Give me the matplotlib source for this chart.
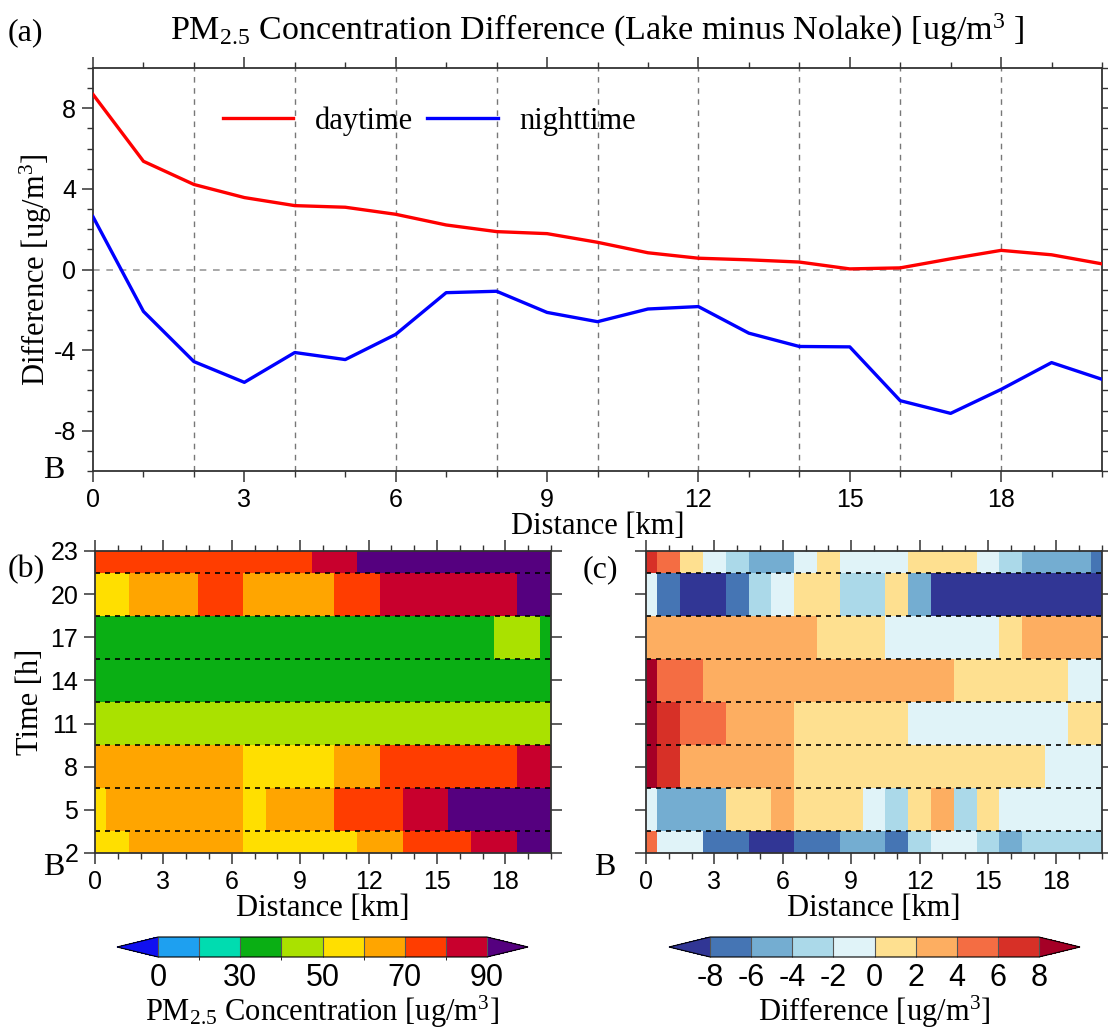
import numpy as np
import matplotlib.pyplot as plt
from matplotlib.colors import ListedColormap, BoundaryNorm
from matplotlib.ticker import MultipleLocator

plt.rcParams['font.family'] = 'Liberation Serif'
plt.rcParams['mathtext.fontset'] = 'custom'
plt.rcParams['mathtext.rm'] = 'Liberation Serif'
plt.rcParams['mathtext.it'] = 'Liberation Serif:italic'
plt.rcParams['axes.unicode_minus'] = False

SANS = 'Liberation Sans'

# distance along the A-B transect [km]
distance = np.arange(21)

# mean PM2.5 difference (Lake - Nolake)
day_diff = [8.69, 5.37, 4.22, 3.57, 3.17, 3.09, 2.74, 2.21, 1.88, 1.78, 1.35,
            0.83, 0.56, 0.48, 0.37, 0.03, 0.08, 0.53, 0.95, 0.73, 0.28]
night_diff = [2.62, -2.08, -4.57, -5.60, -4.12, -4.47, -3.22, -1.15, -1.08, -2.13, -2.59,
              -1.96, -1.84, -3.16, -3.82, -3.84, -6.51, -7.14, -5.95, -4.62, -5.45]

hours = [2, 5, 8, 11, 14, 17, 20, 23]

# PM2.5 concentration, one row per hour
pm_conc = [
    [55, 55, 65, 65, 65, 65, 65, 55, 55, 55, 55, 55, 65, 65, 75, 75, 75, 85, 85, 95, 95],
    [55, 65, 65, 65, 65, 65, 65, 55, 65, 65, 65, 75, 75, 75, 85, 85, 95, 95, 95, 95, 95],
    [65, 65, 65, 65, 65, 65, 65, 55, 55, 55, 55, 65, 65, 75, 75, 75, 75, 75, 75, 85, 85],
    [45] * 21,
    [35] * 21,
    [35] * 18 + [45, 45, 35],
    [55, 55, 65, 65, 65, 75, 75, 65, 65, 65, 65, 75, 75, 85, 85, 85, 85, 85, 85, 95, 95],
    [75] * 10 + [85, 85] + [95] * 9,
]

# PM2.5 difference, one row per hour
pm_diff = [
    [5, -1, -1, -7, -7, -9, -9, -7, -7, -5, -5, -7, -3, -1, -1, -3, -5, -3, -3, -3, -3],
    [-1, -5, -5, -5, 1, 1, 3, 1, 1, 1, -1, -3, 1, 3, -3, 1, -1, -1, -1, -1, -1],
    [9, 7, 3, 3, 3, 3, 3, 1, 1, 1, 1, 1, 1, 1, 1, 1, 1, 1, -1, -1, -1],
    [9, 7, 5, 5, 3, 3, 3, 1, 1, 1, 1, 1, -1, -1, -1, -1, -1, -1, -1, 1, 1],
    [9, 5, 5, 3, 3, 3, 3, 3, 3, 3, 3, 3, 3, 3, 1, 1, 1, 1, 1, -1, -1],
    [3, 3, 3, 3, 3, 3, 3, 3, 1, 1, 1, -1, -1, -1, -1, -1, 1, 3, 3, 3, 3],
    [-1, -7, -9, -9, -7, -3, -1, 1, 1, -3, -3, 1, -5, -9, -9, -9, -9, -9, -9, -9, -9],
    [7, 5, 1, -1, -3, -5, -5, -1, 1, -1, -1, -1, 1, 1, 1, -1, -3, -5, -5, -5, -7],
]

pm_levels = [0, 20, 30, 40, 50, 60, 70, 80, 90]
pm_ticks = [0, 30, 50, 70, 90]
pm_colors = ['#1ea0f0', '#00dcb0', '#0aaf14', '#aae100', '#ffdf00',
             '#ffa500', '#ff3d00', '#c8002d']
pm_under, pm_over = '#1010f0', '#55007f'

diff_levels = [-8, -6, -4, -2, 0, 2, 4, 6, 8]
diff_colors = ['#4575b4', '#74add1', '#abd9e9', '#e0f3f8',
               '#fee090', '#fdae61', '#f46d43', '#d73027']
diff_under, diff_over = '#313695', '#a50026'

W, H = 1108, 1030
fig = plt.figure(figsize=(W / 100, H / 100), dpi=100)


def box(l, t, r, b):
    return [l / W, 1 - b / H, (r - l) / W, (b - t) / H]


def style_axes(ax):
    for s in ax.spines.values():
        s.set_linewidth(1.3)
        s.set_color('#333333')
    ax.tick_params(which='both', direction='out', top=True, right=True,
                   color='#333333', labelfontfamily=SANS, labelsize=18, pad=4)
    ax.tick_params(which='major', length=8, width=1.1)
    ax.tick_params(which='minor', length=4.5, width=1.0)


# (a) line plot
ax = fig.add_axes(box(93, 68, 1102, 471))
for x in range(2, 20, 2):
    ax.axvline(x, color='#777777', lw=1.0, ls=(0, (4, 4)), zorder=1)
ax.axhline(0, color='#999999', lw=1.2, ls=(0, (4, 4)), zorder=1)
ax.plot(distance, day_diff, color='#ff0000', lw=2.4, label='daytime', zorder=3)
ax.plot(distance, night_diff, color='#0000ff', lw=2.4, label='nighttime', zorder=3)
ax.set_xlim(0, 20)
ax.set_ylim(-10, 10)
ax.xaxis.set_major_locator(MultipleLocator(3))
ax.xaxis.set_minor_locator(MultipleLocator(1))
ax.yaxis.set_major_locator(MultipleLocator(4))
ax.yaxis.set_minor_locator(MultipleLocator(1))
style_axes(ax)
ax.set_xlabel('Distance [km]', fontsize=22, labelpad=0)
ax.set_ylabel('Difference [ug/m$^3$]', fontsize=22, labelpad=0)
ax.set_title('PM$_{2.5}$ Concentration Difference (Lake minus Nolake) [ug/m$^3$ ]',
             fontsize=24.5, pad=20)
ax.legend(loc='center left', bbox_to_anchor=(0.1288, 0.8685), ncol=2, frameon=False,
          fontsize=22, handlelength=2.3, handletextpad=0.72, columnspacing=0.46,
          borderpad=0, borderaxespad=0)
fig.text(8 / W, 1 - 40 / H, '(a)', fontsize=23)
fig.text(54 / W, 1 - 478 / H, 'B', fontsize=23, ha='center')


def draw_section(rect, data, levels, colors, under, over, show_y):
    cmap = ListedColormap(colors)
    cmap.set_under(under)
    cmap.set_over(over)
    norm = BoundaryNorm(levels, cmap.N)
    a = fig.add_axes(rect)
    x_edges = np.arange(-0.5, 21, 1)
    y_edges = np.array([h - 1.5 for h in hours] + [hours[-1] + 1.5])
    mesh = a.pcolormesh(x_edges, y_edges, np.array(data), cmap=cmap, norm=norm)
    for yb in y_edges[1:-1]:
        a.axhline(yb, color='black', lw=1.2, ls=(0, (3, 3)))
    a.set_xlim(0, 20)
    a.set_ylim(hours[0], hours[-1])
    a.xaxis.set_major_locator(MultipleLocator(3))
    a.xaxis.set_minor_locator(MultipleLocator(1))
    a.set_yticks(hours)
    style_axes(a)
    if not show_y:
        a.set_yticklabels([])
    a.set_xlabel('Distance [km]', fontsize=22, labelpad=0)
    return a, mesh


ax_b, mesh_b = draw_section(box(95, 551, 551, 853), pm_conc, pm_levels, pm_colors,
                            pm_under, pm_over, True)
ax_b.set_ylabel('Time [h]', fontsize=22, labelpad=4)
ax_c, mesh_c = draw_section(box(646, 551, 1102, 853), pm_diff, diff_levels, diff_colors,
                            diff_under, diff_over, False)

fig.text(8 / W, 1 - 577 / H, '(b)', fontsize=23)
fig.text(583 / W, 1 - 577 / H, '(c)', fontsize=23)
fig.text(54 / W, 1 - 875 / H, 'B', fontsize=23, ha='center')
fig.text(605 / W, 1 - 875 / H, 'B', fontsize=23, ha='center')

# colorbars
for mesh, rect, ticks, label in [
        (mesh_b, box(117, 937, 528, 957), pm_ticks, 'PM$_{2.5}$ Concentration [ug/m$^3$]'),
        (mesh_c, box(669, 937, 1080, 957), diff_levels, 'Difference [ug/m$^3$]')]:
    cax = fig.add_axes(rect)
    cb = fig.colorbar(mesh, cax=cax, orientation='horizontal', extend='both',
                      extendfrac=0.125, drawedges=True, ticks=ticks)
    cb.outline.set_linewidth(0.8)
    cb.dividers.set_linewidth(0.8)
    cb.dividers.set_color('#555555')
    cax.tick_params(length=0, pad=4, labelsize=22, labelfontfamily=SANS)
    cb.set_label(label, fontsize=22, labelpad=1)

fig.savefig('out.png', dpi=100)
